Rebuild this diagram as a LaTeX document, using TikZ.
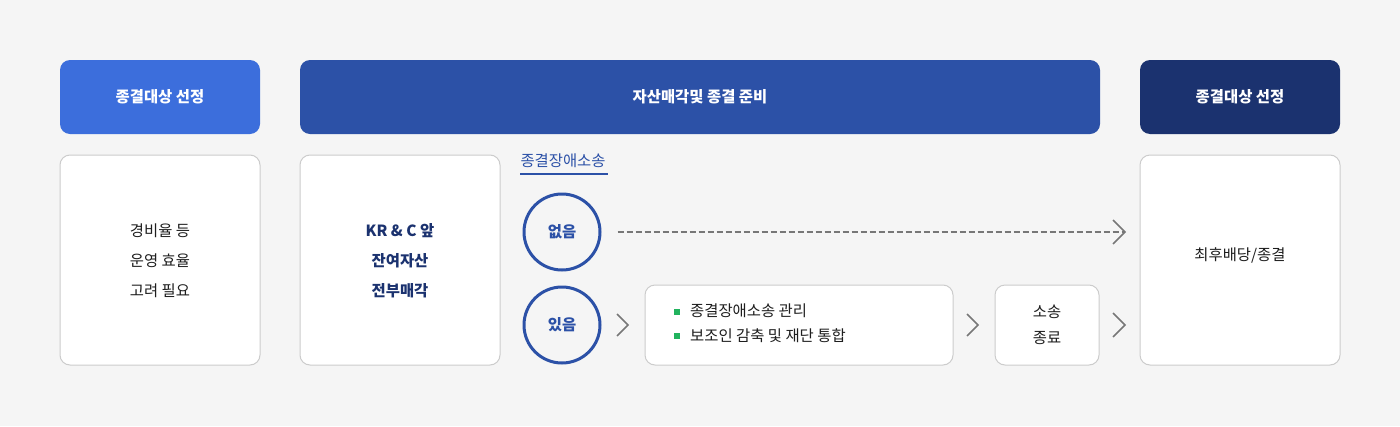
\documentclass[tikz,border=0pt]{standalone}
\usepackage{fontspec}
\setmainfont{Noto Sans CJK KR}
\usetikzlibrary{arrows.meta}
\definecolor{bgc}{HTML}{F5F5F5}
\definecolor{hdrA}{HTML}{3C6EDC}
\definecolor{hdrB}{HTML}{2C51A7}
\definecolor{hdrC}{HTML}{1B326F}
\definecolor{bordc}{HTML}{CCCCCC}
\definecolor{greyc}{HTML}{777777}
\definecolor{greenc}{HTML}{22B35E}
\definecolor{txtc}{HTML}{1E1E1E}
\begin{document}
\begin{tikzpicture}[x=1pt,y=-1pt,
  hdr/.style={rounded corners=10pt, minimum width=200pt, minimum height=74pt, inner sep=0pt,
    text=white, font=\fontsize{15.4pt}{17pt}\selectfont\bfseries},
  card/.style={draw=bordc, line width=1pt, fill=white, rounded corners=10pt, inner sep=0pt,
    align=center, text=txtc, font=\fontsize{15.4pt}{30pt}\selectfont},
  ring/.style={circle, draw=hdrB, line width=3pt, minimum size=76pt, inner sep=0pt,
    text=hdrB, font=\fontsize{15.4pt}{17pt}\selectfont\bfseries},
  chev/.style={draw=greyc, line width=1.6pt},
  lbl/.style={inner sep=0pt, text=txtc, font=\fontsize{15.4pt}{17pt}\selectfont}
]
\fill[bgc] (0,0) rectangle (1400,426);
\useasboundingbox (0,0) rectangle (1400,426);

% headers
\node[hdr, fill=hdrA] (h1) at (160,97) {종결대상 선정};
\node[hdr, fill=hdrB, minimum width=800pt] (h2) at (700,97) {자산매각및 종결 준비};
\node[hdr, fill=hdrC] (h3) at (1240,97) {종결대상 선정};

% cards
\node[card, minimum width=200pt, minimum height=210pt] (b1) at (160,260) {};
\node[lbl, align=center, font=\fontsize{15.4pt}{30pt}\selectfont] (t1) at (160,261) {경비율 등\\운영 효율\\고려 필요};
\node[card, minimum width=200pt, minimum height=210pt] (b2) at (400,260) {};
\node[lbl, align=center, text=hdrC, font=\fontsize{15.4pt}{30pt}\selectfont\bfseries] (t2) at (400,261) {KR \& C 앞\\잔여자산\\전부매각};
\node[card, minimum width=200pt, minimum height=210pt] (b4) at (1240,260) {};
\node[lbl] (t4) at (1240,255) {최후배당/종결};

% litigation label
\node[lbl, text=hdrB] (lit) at (563,161) {종결장애소송};
\coordinate (ulA) at (520,174);
\coordinate (ulB) at (608,174);
\draw[hdrB, line width=1.2pt] (ulA) -- (ulB);

% circles
\node[ring] (c1) at (562,232) {없음};
\node[ring] (c2) at (562,325) {있음};

% dashed path to final
\coordinate (dEnd) at (1125,232);
\draw[greyc, line width=1.6pt, dash pattern=on 6pt off 3pt] ([xshift=16pt]c1.east) -- ([xshift=-1pt]dEnd);
\draw[chev] (dEnd) ++(-12,-12) -- (dEnd) -- ++(-12,12);

% lower flow
\node[card, minimum width=308pt, minimum height=80pt] (m) at (799,325) {};
\node[lbl, anchor=west] (m1) at (690,311) {종결장애소송 관리};
\node[lbl, anchor=west] (m2) at (690,336) {보조인 감축 및 재단 통합};
\fill[greenc] (674,309) rectangle (680,315);
\fill[greenc] (674,333) rectangle (680,339);

\node[card, minimum width=104pt, minimum height=80pt, font=\fontsize{15.4pt}{26pt}\selectfont] (s) at (1047,325) {소송\\종료};

\coordinate (k1) at (628,325);
\coordinate (k2) at (978,325);
\coordinate (k3) at (1125,325);
\draw[chev] (k1) ++(-11,-11) -- (k1) -- ++(-11,11);
\draw[chev] (k2) ++(-11,-11) -- (k2) -- ++(-11,11);
\draw[chev] (k3) ++(-12,-12) -- (k3) -- ++(-12,12);
\end{tikzpicture}
\end{document}
